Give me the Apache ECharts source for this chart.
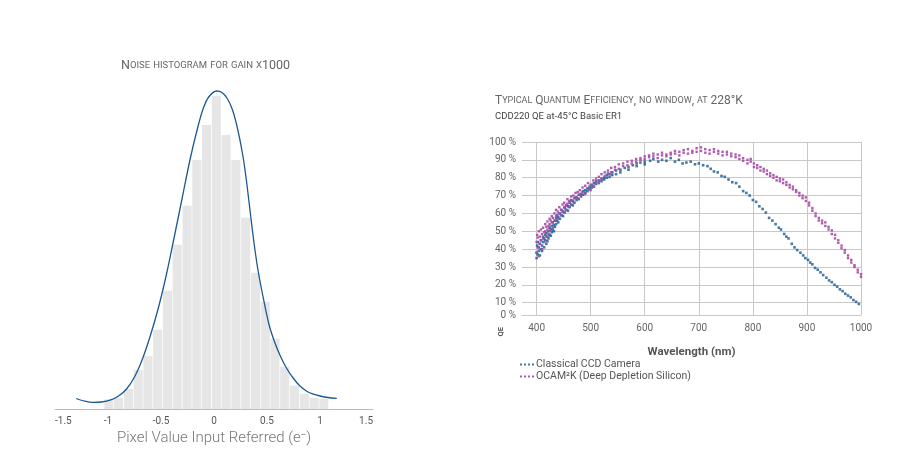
<!DOCTYPE html>
<html><head><meta charset="utf-8">
<script src="https://cdn.jsdelivr.net/npm/echarts@6/dist/echarts.min.js"></script>
<style>html,body{margin:0;padding:0;background:#fff}#c{width:908px;height:466px}</style>
</head><body><div id="c"></div>
<script>
// ---------- Noise histogram (left) ----------
const histBins = [-0.992,-0.900,-0.807,-0.715,-0.623,-0.531,-0.439,-0.347,-0.254,-0.162,-0.070,0.022,0.114,0.206,0.299,0.391,0.483,0.575,0.667,0.759,0.852,0.944,1.036];
const histCounts = [9.7,11.3,20,39,53,79.3,118.3,164.3,203.3,249,284,313.3,274,249,191.3,136.3,107.3,70.3,42.3,23.3,15.3,11.3,10.3];
const fitX = [-1.30,-1.22,-1.14,-1.06,-0.98,-0.90,-0.825,-0.75,-0.675,-0.60,-0.525,-0.45,-0.375,-0.30,-0.225,-0.15,-0.10,-0.05,0.025,0.075,0.125,0.175,0.225,0.276,0.31,0.346,0.38,0.418,0.472,0.52,0.575,0.63,0.686,0.75,0.811,0.875,0.937,1.00,1.075,1.158];
const fitY = [10.5,7.8,6.6,7.0,8.8,13.0,20.0,32.0,50.0,73.5,101,134,172,211,250,283,301,312,318,316.5,310.5,299,279,251,225,193,164,137,107.3,84,66,52,40.5,30.5,23,17.8,14.8,13.0,11.5,10.7];
const histTicks = [-1.5,-1,-0.5,0,0.5,1,1.5];

// ---------- Quantum efficiency (right) ----------
const waveTicks = [400,500,600,700,800,900,1000];
const qeTicks = [0,10,20,30,40,50,60,70,80,90,100];
const ccdData = [[400,35],[400,38],[401,42],[402,37],[402,44],[404,39],[404,41],[406,36.5],[406,43],[408,40],[408,45],[410,42],[410,39],[412,44],[412,47],[414,41],[414,46],[416,45],[416,48],[418,43],[418,49],[420,47],[420,44.5],[422,50],[422,46],[424,48],[424,52],[426,51],[426,47.5],[428,53],[428,49.5],[430,51],[430,55],[432,53.5],[432,50],[434,56],[434,52.5],[436,54],[436,57.5],[438,56],[438,59],[440,55],[440,58],[443,60],[443,57],[446,59],[446,62],[449,61],[449,58.5],[452,63],[452,60.5],[455,62],[455,64.5],[458,64],[458,61.5],[461,66],[461,63.5],[464,65],[464,67.5],[467,67],[467,64.5],[470,68.5],[470,66],[474,69],[474,67.5],[478,70.5],[478,68],[482,71],[482,69.5],[486,72.5],[486,70.5],[490,73],[490,71.5],[494,74],[494,72.5],[498,75],[498,73.5],[502,74.5],[502,76],[506,77],[506,75],[510,76.5],[510,78],[515,78.5],[515,77],[520,79.5],[520,78],[525,80],[525,79],[530,81.5],[530,80],[535,82],[535,80.5],[540,83],[540,81.5],[547,82],[547,84],[555,84.5],[555,83],[563,85.5],[570,86],[570,84.5],[578,87],[585,86.5],[585,88],[592,88.5],[600,87.5],[600,89],[610,89.5],[616,90.5],[625,89],[632,90],[640,89.5],[648,91],[656,89],[663,90],[670,88],[677,88.5],[685,89],[693,87.5],[700,88],[708,87],[716,86.5],[722,85],[728,83.5],[735,83],[742,81],[748,80.5],[755,79],[762,77.5],[769,77],[775,75],[782,72.5],[788,71.5],[794,70],[800,67.5],[806,66.5],[812,64],[818,62.5],[824,60.5],[830,57.5],[836,56],[842,54],[848,52],[852,51],[858,48.5],[862,47],[866,46],[872,43],[877,41],[882,39.5],[888,38],[893,36.5],[897,35],[902,34],[906,32.5],[910,31.5],[915,29.5],[920,28.5],[925,27],[930,25.5],[936,24],[941,22.5],[946,21.5],[951,20],[956,19],[961,17.5],[966,16.5],[971,15],[976,14],[981,13],[986,11.5],[991,10.5],[996,9.3]];
const ocamData = [[400,38],[400,44],[401,48],[402,41],[402,46.5],[404,36],[404,50],[406,43],[406,47],[408,45],[408,51],[410,40],[410,48.5],[412,46],[412,52],[414,44],[414,49.5],[416,50],[416,54],[418,47],[418,52.5],[420,51],[420,55.5],[422,48.5],[422,53],[424,54],[424,57],[426,50.5],[426,56],[428,55],[428,58.5],[430,52],[430,57.5],[433,56],[433,60],[436,58.5],[436,62],[439,57],[439,61],[442,60],[442,63.5],[445,62],[445,59],[448,61],[448,65],[451,63.5],[451,66],[454,62],[454,64.5],[457,65.5],[457,68],[460,64],[460,67],[464,67],[464,69.5],[468,66.5],[468,70],[472,69],[472,71.5],[476,68.5],[476,72],[480,70.5],[480,73],[485,72],[485,74.5],[490,71],[490,75.5],[495,74],[495,77],[500,73],[500,76],[505,75.5],[505,78.5],[510,77],[510,79.5],[515,78],[515,80.5],[520,79],[520,82],[526,81],[526,83],[532,82.5],[532,84],[538,83],[538,85.5],[545,84.5],[545,86],[552,85],[552,87.5],[560,86.5],[560,88],[568,87],[568,89],[576,88],[576,89.5],[584,89],[584,90.5],[592,90],[592,91],[600,90.5],[600,92],[608,91.5],[608,92.5],[616,92],[616,93.5],[624,91],[624,93],[632,92.5],[632,94],[640,93],[640,92],[648,94],[648,93],[656,93.5],[656,95],[664,92.5],[664,94.5],[672,94],[672,95.5],[680,93.5],[680,96],[688,95],[688,94],[696,94.5],[696,96.5],[704,95],[704,97],[712,94],[712,96],[720,95.5],[720,93.5],[728,94.5],[728,96],[736,93.5],[736,95],[744,94.5],[744,92.5],[752,93],[752,94.5],[760,93.5],[760,92],[768,91.5],[768,93],[775,92.5],[775,90.5],[782,91],[782,89.5],[790,90],[790,88],[796,89],[796,90.5],[802,88],[802,86],[808,87],[808,85.5],[814,86],[814,84],[820,85],[820,83.5],[826,84],[826,82],[832,82.5],[832,81],[838,81.5],[838,80],[844,80.5],[844,78.5],[850,79.5],[850,78],[856,79],[856,77],[862,77.5],[862,76],[868,76],[868,74.5],[874,75],[874,73.5],[880,73],[880,72],[886,71.5],[886,70],[892,70],[892,68.5],[898,69],[898,67],[904,66],[904,64.5],[910,63],[910,61.5],[916,60],[916,58.5],[922,57.5],[922,56],[928,56],[928,54.5],[934,55],[934,53],[940,52.5],[940,51],[946,50.5],[946,48.5],[952,48],[952,46],[958,45],[958,43.5],[964,42],[964,40.5],[970,39.5],[970,38],[976,36.5],[976,35],[982,34],[982,32.5],[988,31],[988,30],[994,28.5],[994,27],[1000,26],[1000,24.5]];

const seriesNames = ['Classical CCD Camera','OCAM²K (Deep Depletion Silicon)'];

function sc(s){
  return s.replace(/([a-z]+)|([^a-z]+)/g, function(m, lo, up){ return lo ? '{s|'+lo.toUpperCase()+'}' : '{b|'+up+'}'; });
}
const FONT = 'Roboto';
const dotIcon = 'path://M0,0h2v2h-2zM4,0h2v2h-2zM8,0h2v2h-2zM12,0h2v2h-2z';

const chart = echarts.init(document.getElementById('c'));
chart.setOption({
  animation:false,
  textStyle:{fontFamily:FONT},
  title:[
    {text:sc('Noise histogram for gain x1000'), left:121, top:59, padding:0,
     textStyle:{fontWeight:'normal', rich:{b:{fontSize:12.5,color:'#666',fontWeight:'normal',fontFamily:FONT},s:{fontSize:9.5,color:'#666',fontWeight:'normal',fontFamily:FONT}}}},
    {text:sc('Typical Quantum Efficiency, no window, at 228°K'), left:495, top:95, padding:0,
     textStyle:{fontWeight:'normal', rich:{b:{fontSize:12,color:'#666',fontWeight:'normal',fontFamily:FONT},s:{fontSize:9,color:'#666',fontWeight:'normal',fontFamily:FONT}}}},
    {text:'CDD220 QE at-45°C Basic ER1', left:495, top:112, padding:0,
     textStyle:{fontSize:9.5,color:'#444',fontWeight:'normal',fontFamily:FONT}}
  ],
  legend:{
    data:seriesNames, orient:'vertical', left:520, top:359, itemGap:1,
    itemWidth:14, itemHeight:2, padding:0, icon:dotIcon,
    textStyle:{fontSize:10.5,color:'#555',fontFamily:FONT,padding:[0,0,0,-3]}
  },
  grid:[
    {left:55, right:535, top:79, bottom:57},
    {left:522, right:47, top:142, bottom:151}
  ],
  xAxis:[
    {gridIndex:0, type:'value', min:-1.5, max:1.5, interval:0.5,
     axisLine:{show:true, onZero:false, lineStyle:{color:'#bbb'}}, axisTick:{show:false}, splitLine:{show:false},
     axisLabel:{color:'#555', fontSize:10, margin:7, alignMinLabel:'left', alignMaxLabel:'right',
       formatter:function(v){ return histTicks.indexOf(v) >= 0 ? String(v) : ''; }},
     name:'Pixel Value Input Referred (e⁻)', nameLocation:'middle', nameGap:17,
     nameTextStyle:{fontSize:15, color:'#777', fontFamily:FONT, fontWeight:300}},
    {gridIndex:1, type:'value', min:373, max:1000, splitNumber:6,
     axisLine:{show:true, onZero:false, lineStyle:{color:'#c8c8c8'}}, axisTick:{show:false},
     splitLine:{show:true, showMinLine:false, lineStyle:{color:'#c8c8c8'}},
     axisLabel:{color:'#666', fontSize:10, margin:8, showMinLabel:false,
       formatter:function(v){ return waveTicks.indexOf(v) >= 0 ? String(v) : ''; }},
     name:'Wavelength (nm)', nameLocation:'middle', nameGap:31,
     nameTextStyle:{fontSize:11.5, color:'#555', fontWeight:'bold', fontFamily:FONT}}
  ],
  yAxis:[
    {gridIndex:0, type:'value', min:0, max:330, show:false},
    {gridIndex:1, type:'value', min:3.13, max:100, splitNumber:10,
     axisLine:{show:false}, axisTick:{show:false},
     splitLine:{show:true, showMinLine:false, lineStyle:{color:'#c8c8c8'}},
     axisLabel:{color:'#666', fontSize:10, margin:6, showMinLabel:true,
       formatter:function(v){ var r = v < 5 ? qeTicks[0] : Math.round(v); return r + ' %'; }}}
  ],
  graphic:[{type:'text', left:497, top:327, rotation:Math.PI/2,
    style:{text:'QE', fontSize:7.5, fontWeight:'bold', fill:'#555', fontFamily:FONT}}],
  series:[
    {type:'bar', xAxisIndex:0, yAxisIndex:0, barWidth:9.1, silent:true,
     itemStyle:{color:'#e6e6e6'}, data:histBins.map(function(b,i){return [b, histCounts[i]];})},
    {type:'line', xAxisIndex:0, yAxisIndex:0, smooth:0.3, showSymbol:false, silent:true,
     lineStyle:{color:'#1d5891', width:1.3}, data:fitX.map(function(x,i){return [x, fitY[i]];})},
    {name:seriesNames[0], type:'scatter', xAxisIndex:1, yAxisIndex:1, symbol:'rect', symbolSize:2.6,
     itemStyle:{color:'#175a92'}, data:ccdData},
    {name:seriesNames[1], type:'scatter', xAxisIndex:1, yAxisIndex:1, symbol:'rect', symbolSize:2.4,
     itemStyle:{color:'#a74aa4', opacity:0.9}, data:ocamData}
  ]
});
</script></body></html>
